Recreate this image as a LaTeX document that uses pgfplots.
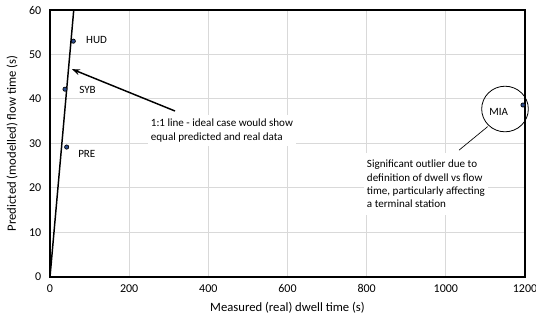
\documentclass[border=0pt]{standalone}
\usepackage{fontspec}
\setmainfont{Carlito}
\usepackage{pgfplots}
\pgfplotsset{compat=1.18}
\usetikzlibrary{arrows.meta}
\definecolor{gridgray}{HTML}{D9D9D9}
\definecolor{ptblue}{HTML}{2E4D8C}
\begin{document}
\begin{tikzpicture}
\begin{axis}[
  at={(0,0)}, anchor=south west,
  scale only axis, width=356.25pt, height=200.25pt,
  xmin=0, xmax=1200, ymin=0, ymax=60,
  xtick={0,200,...,1200}, ytick={0,10,...,60},
  grid=major, major grid style={gridgray, line width=0.75pt},
  axis line style={black, line width=0.9pt},
  tick style={draw=none},
  /pgf/number format/assume math mode=true,
  /pgf/number format/set thousands separator={},
  ticklabel style={font=\fontsize{9}{11}\selectfont},
  xticklabel style={yshift=-2pt},
  yticklabel style={xshift=-3pt},
  xlabel={Measured (real) dwell time (s)},
  ylabel={Predicted (modelled) flow time (s)},
  label style={font=\fontsize{9.5}{11}\selectfont},
  xlabel style={at={([yshift=-23.25pt]axis description cs:0.5,0)}, anchor=center},
  ylabel style={at={([xshift=-28.5pt]axis description cs:0,0.5)}, anchor=center},
  clip=false,
]
\addplot[black, line width=1.1pt] coordinates {(0,0) (60,60)};
\addplot[only marks, mark=*, mark size=1.6pt, mark options={fill=ptblue, draw=black, line width=0.5pt}]
  coordinates {(58.9,53.0) (37.9,42.2) (42.1,29.2) (1195,38.65)};
\node[anchor=west, inner sep=0pt, font=\fontsize{8.3}{10}\selectfont] at (axis cs:90.9,53.3) {HUD};
\node[anchor=west, inner sep=0pt, font=\fontsize{8.3}{10}\selectfont] at (axis cs:73.3,42.0) {SYB};
\node[anchor=west, inner sep=0pt, font=\fontsize{8.3}{10}\selectfont] at (axis cs:70.7,27.6) {PRE};
\node[anchor=west, fill=white, inner xsep=2pt, inner ysep=3pt, align=left, font=\fontsize{8.3}{10}\selectfont]
  at (axis cs:247.5,32.9) {1:1 line - ideal case would show\\equal predicted and real data};
\draw[-{Stealth[length=6pt,width=4.5pt]}, line width=1.1pt] (axis cs:315.8,37.3) -- (axis cs:55.6,46.7);
\node[anchor=west, fill=white, inner xsep=2pt, inner ysep=5pt, align=left, font=\fontsize{8.3}{10}\selectfont]
  at (axis cs:793.3,20.9) {Significant outlier due to\\definition of dwell vs flow\\time, particularly affecting\\a terminal station};
\draw[line width=0.6pt] (axis cs:1149.5,37.75) ellipse [x radius=17.5pt, y radius=17.1pt];
\node[font=\fontsize{8.3}{10}\selectfont] at (axis cs:1133.6,37.1) {MIA};
\draw[line width=0.5pt] (axis cs:1105.8,33.8) -- (axis cs:1033.3,28.5);
\end{axis}
\pgfresetboundingbox
\path (-37.5pt,-34.5pt) rectangle (364.5pt,207.75pt);
\end{tikzpicture}
\end{document}
